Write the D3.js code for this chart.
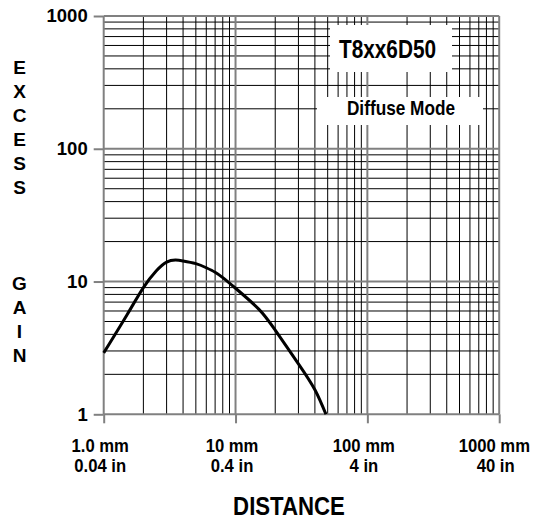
<!DOCTYPE html>
<html>
<head>
<meta charset="utf-8">
<script src="https://cdn.jsdelivr.net/npm/d3@7"></script>
<style>
  body { margin: 0; background: #fff; }
  svg { display: block; }
  text { font-family: "Liberation Sans", Arial, sans-serif; font-weight: bold; fill: #000; }
</style>
</head>
<body>
<svg id="chart" width="536" height="521"></svg>
<script>
// chart values
const decades = [1, 10, 100, 1000]
const minorSteps = [2, 3, 4, 5, 6, 7, 8, 9]
const yTickLabels = ["1", "10", "100", "1000"]
const xTickMm = ["1.0 mm", "10 mm", "100 mm", "1000 mm"]
const xTickIn = ["0.04 in", "0.4 in", "4 in", "40 in"]
const distanceMm = [1, 1.5, 2, 2.5, 3, 3.5, 4, 5, 6, 7, 8, 10, 15, 20, 30, 40, 48.5]
const excessGain = [2.9, 5.6, 9.0, 12.0, 14.0, 14.5, 14.3, 13.65, 12.7, 11.75, 10.7, 8.9, 6.2, 4.3, 2.4, 1.53, 1.0]
const yTitle = ["E", "X", "C", "E", "S", "S", "", "", "", "G", "A", "I", "N"]
const modelName = "T8xx6D50"
const modeName = "Diffuse Mode"

let svg = d3.select("#chart")

let x = d3.scaleLog().domain([1, 1000]).range([103.7, 499.2])
let y = d3.scaleLog().domain([1, 1000]).range([414.3, 16])

// squeeze a text a bit, the original font is condensed
function condense(sel, f){
	sel.each(function(){
		let w = this.getComputedTextLength()
		d3.select(this).attr("textLength", w*f).attr("lengthAdjust", "spacingAndGlyphs")
	})
}

// minor grid values
let minor = []
decades.slice(0, 3).forEach(d => minorSteps.forEach(m => minor.push(d*m)))

let grid = svg.append("g")

grid.selectAll("line.vminor")
  .data(minor)
  .enter().append("line")
	.attr("x1", d => x(d)).attr("x2", d => x(d))
	.attr("y1", y(1)).attr("y2", y(1000))
	.attr("stroke", "#000").attr("stroke-width", 1)

grid.selectAll("line.hminor")
  .data(minor)
  .enter().append("line")
	.attr("x1", x(1)).attr("x2", x(1000))
	.attr("y1", d => y(d)).attr("y2", d => y(d))
	.attr("stroke", "#000").attr("stroke-width", 1)

grid.selectAll("line.vmajor")
  .data(decades)
  .enter().append("line")
	.attr("x1", d => x(d)).attr("x2", d => x(d))
	.attr("y1", y(1)).attr("y2", y(1000))
	.attr("stroke", "#808080").attr("stroke-width", 2)

grid.selectAll("line.hmajor")
  .data(decades)
  .enter().append("line")
	.attr("x1", x(1)).attr("x2", x(1000))
	.attr("y1", d => y(d)).attr("y2", d => y(d))
	.attr("stroke", "#808080").attr("stroke-width", 2)

// white label boxes over the grid
svg.append("rect").attr("x", 330).attr("y", 25).attr("width", 122).attr("height", 47).attr("fill", "#fff")
svg.append("rect").attr("x", 317).attr("y", 97).attr("width", 166).attr("height", 28).attr("fill", "#fff")

svg.append("text")
	.attr("x", 387.5).attr("y", 58.3)
	.attr("text-anchor", "middle")
	.style("font-size", "26px")
	.text(modelName)
	.call(condense, 0.8)

svg.append("text")
	.attr("x", 401).attr("y", 115)
	.attr("text-anchor", "middle")
	.style("font-size", "20.5px")
	.text(modeName)
	.call(condense, 0.84)

// y axis
let yaxis = d3.axisLeft(y)
	.tickValues(decades)
	.tickSize(10)
	.tickPadding(6)
	.tickFormat((d, i) => yTickLabels[i])

let gy = svg.append("g")
	.attr("transform", "translate(" + x(1) + ",0)")
	.call(yaxis)
gy.select(".domain").remove()
gy.selectAll(".tick line").attr("stroke", "#808080").attr("stroke-width", 2)
gy.selectAll(".tick text")
	.attr("font-family", null).attr("font-size", null)
	.style("font-size", "18.5px")

// x axis
let xaxis = d3.axisBottom(x)
	.tickValues(decades)
	.tickSize(9)
	.tickFormat("")

let gx = svg.append("g")
	.attr("transform", "translate(0," + y(1) + ")")
	.call(xaxis)
gx.select(".domain").remove()
gx.selectAll(".tick line").attr("stroke", "#808080").attr("stroke-width", 2)

let xl = svg.append("g").selectAll("g")
  .data(decades)
  .enter().append("g")

// keep the last label inside the window
function keepInside(sel){
	sel.each(function(){
		let b = this.getBBox()
		let over = b.x + b.width - 530
		if (over > 0) d3.select(this).attr("x", +d3.select(this).attr("x") - over)
	})
}

xl.append("text")
	.attr("x", d => x(d) - 3.5).attr("y", 451.7)
	.attr("text-anchor", "middle")
	.style("font-size", "18.5px")
	.text((d, i) => xTickMm[i])
	.call(condense, 0.9)
	.call(keepInside)

xl.append("text")
	.attr("x", d => x(d) - 3.5).attr("y", 472.3)
	.attr("text-anchor", "middle")
	.style("font-size", "18.5px")
	.text((d, i) => xTickIn[i])
	.call(condense, 0.9)

svg.append("text")
	.attr("x", 289).attr("y", 514.5)
	.attr("text-anchor", "middle")
	.style("font-size", "25.5px")
	.text("DISTANCE")
	.call(condense, 0.87)

// vertical axis title, one letter per row
svg.append("g").selectAll("text")
  .data(yTitle)
  .enter().append("text")
	.attr("x", 19.5)
	.attr("y", (d, i) => 73.5 + i*24.07)
	.attr("text-anchor", "middle")
	.style("font-size", "19px")
	.text(d => d)

// the gain curve
let pts = distanceMm.map((d, i) => [d, excessGain[i]])
svg.append("path")
	.datum(pts)
	.attr("fill", "none")
	.attr("stroke", "#000")
	.attr("stroke-width", 3)
	.attr("stroke-linejoin", "round")
	.attr("d", d3.line().x(d => x(d[0])).y(d => y(d[1])).curve(d3.curveNatural))
</script>
</body>
</html>
